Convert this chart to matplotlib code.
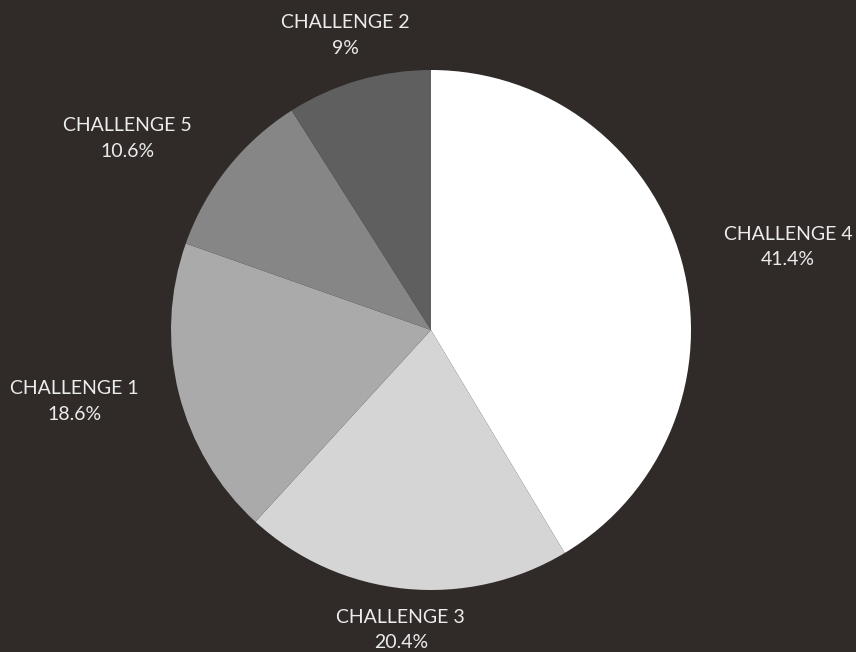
import numpy as np
import matplotlib.pyplot as plt

# data
labels = ['CHALLENGE 4', 'CHALLENGE 3', 'CHALLENGE 1', 'CHALLENGE 5', 'CHALLENGE 2']
shares = [41.4, 20.4, 18.6, 10.6, 9.0]
pct_text = ['41.4%', '20.4%', '18.6%', '10.6%', '9%']

colors = ['#ffffff', '#d5d5d5', '#aaaaaa', '#868686', '#5f5f5f']
bg = '#302b28'
# label placement: distance (in radii) and angle nudge (deg) from the slice middle
label_dist = [1.41, 1.16, 1.40, 1.38, 1.18]
label_turn = [-2.4, 0.0, -2.7, 6.2, 0.0]

fig = plt.figure(figsize=(8.56, 6.52), dpi=100, facecolor=bg)
ax = fig.add_axes([0, 0, 1, 1])
ax.set_facecolor(bg)

cx, cy, R = 431, 652 - 330, 260
wedges, _ = ax.pie(shares, colors=colors, startangle=90, counterclock=False,
                   center=(cx, cy), radius=R, frame=True,
                   wedgeprops=dict(linewidth=0))
ax.set_xlim(0, 856)
ax.set_ylim(0, 652)
ax.set_aspect('equal')
ax.axis('off')

for w, lab, pct, d, t in zip(wedges, labels, pct_text, label_dist, label_turn):
    mid = np.deg2rad((w.theta1 + w.theta2) / 2 + t)
    x = cx + d * R * np.cos(mid)
    y = cy + d * R * np.sin(mid)
    ax.text(x, y, lab + '\n' + pct, ha='center', va='center', color='#ececec',
            fontsize=14, family='Lato', linespacing=1.62)

fig.savefig('out.png', dpi=100, facecolor=bg)
